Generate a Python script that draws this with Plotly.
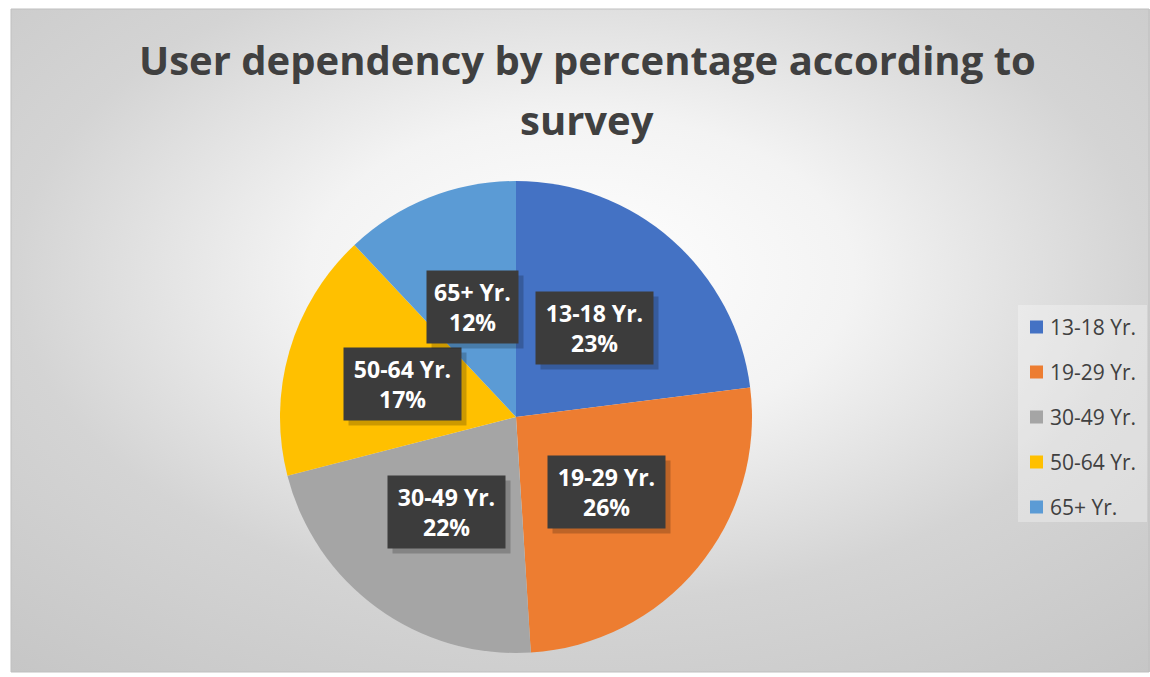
import base64
import plotly.graph_objects as go
import numpy as np

labels = ["13-18 Yr.", "19-29 Yr.", "30-49 Yr.", "50-64 Yr.", "65+ Yr."]
values = [23, 26, 22, 17, 12]
colors = ["#4472C4", "#ED7D31", "#A5A5A5", "#FFC000", "#5B9BD5"]
title_lines = ["User dependency by percentage according to", "survey"]

W, H = 1150, 677
cx, cy, R = 516, 417, 236
FONT = "Open Sans"

def px(x):
    return x / W

def py(y):
    return 1 - y / H

fig = go.Figure()
fig.add_trace(go.Pie(
    labels=labels, values=values, sort=False, direction="clockwise", rotation=0,
    marker=dict(colors=colors, line=dict(width=0)),
    textinfo="none", hoverinfo="label+percent", showlegend=False,
    domain=dict(x=[px(cx - R), px(cx + R)], y=[py(cy + R), py(cy - R)]),
))

# background gradient (chart area)
svg = ('<svg xmlns="http://www.w3.org/2000/svg" width="1139" height="663" preserveAspectRatio="none">'
       '<defs><radialGradient id="g" cx="0.5" cy="0.4" r="0.8">'
       '<stop offset="0" stop-color="#ffffff"/><stop offset="0.3" stop-color="#f3f3f3"/>'
       '<stop offset="0.62" stop-color="#d4d4d4"/><stop offset="1" stop-color="#c5c5c5"/>'
       '</radialGradient></defs><rect width="1139" height="663" fill="url(#g)"/></svg>')
src = "data:image/svg+xml;base64," + base64.b64encode(svg.encode()).decode()
fig.add_layout_image(dict(source=src, xref="paper", yref="paper", x=px(11), y=py(9),
                          sizex=px(1150 - 11), sizey=(672 - 9) / H, sizing="stretch",
                          xanchor="left", yanchor="top", layer="below"))

shapes = [dict(type="rect", xref="paper", yref="paper", x0=px(11), x1=px(1149), y0=py(672), y1=py(9),
               line=dict(color="#bfbfbf", width=1), fillcolor="rgba(0,0,0,0)", layer="below")]
annotations = []

for i, t in enumerate(title_lines):
    annotations.append(dict(text="<b>%s</b>" % t, x=px(587), y=py(60 + 60 * i), xref="paper", yref="paper",
                            showarrow=False, xanchor="center", yanchor="middle",
                            font=dict(family=FONT, size=40, color="#404040")))

# data labels
total = sum(values)
cum = np.cumsum([0] + values[:-1])
for lab, v, c0 in zip(labels, values, cum):
    th = 2 * np.pi * (c0 + v / 2) / total
    x = cx + 0.5 * R * np.sin(th)
    y = cy - 0.5 * R * np.cos(th)
    bw = 13 * len(lab)
    common = dict(xref="paper", yref="paper", showarrow=False, width=bw, height=72, borderpad=0,
                  xanchor="center", yanchor="middle", font=dict(family=FONT, size=23, color="white"))
    annotations.append(dict(text="", x=px(x + 5), y=py(y + 5), bgcolor="rgba(0,0,0,0.2)", **common))
    annotations.append(dict(text="<b>%s<br>%d%%</b>" % (lab, round(100 * v / total)), x=px(x), y=py(y),
                            bgcolor="#3c3c3c", **common))

# legend
shapes.append(dict(type="rect", xref="paper", yref="paper", x0=px(1018), x1=px(1147), y0=py(522), y1=py(305),
                   line=dict(width=0), fillcolor="rgba(255,255,255,0.3)", layer="below"))
for i, (lab, col) in enumerate(zip(labels, colors)):
    yc = 327 + 45 * i
    shapes.append(dict(type="rect", xref="paper", yref="paper", x0=px(1030), x1=px(1043),
                       y0=py(yc + 6.5), y1=py(yc - 6.5), line=dict(width=0), fillcolor=col))
    annotations.append(dict(text=lab, x=px(1048), y=py(yc), xref="paper", yref="paper", showarrow=False,
                            xanchor="left", yanchor="middle", font=dict(family=FONT, size=21, color="#404040")))

fig.update_layout(width=W, height=H, margin=dict(l=0, r=0, t=0, b=0), paper_bgcolor="white",
                  shapes=shapes, annotations=annotations, showlegend=False)
fig.write_html("out.html", config={"displayModeBar": False},
               post_script="document.body.style.margin='0px';")
